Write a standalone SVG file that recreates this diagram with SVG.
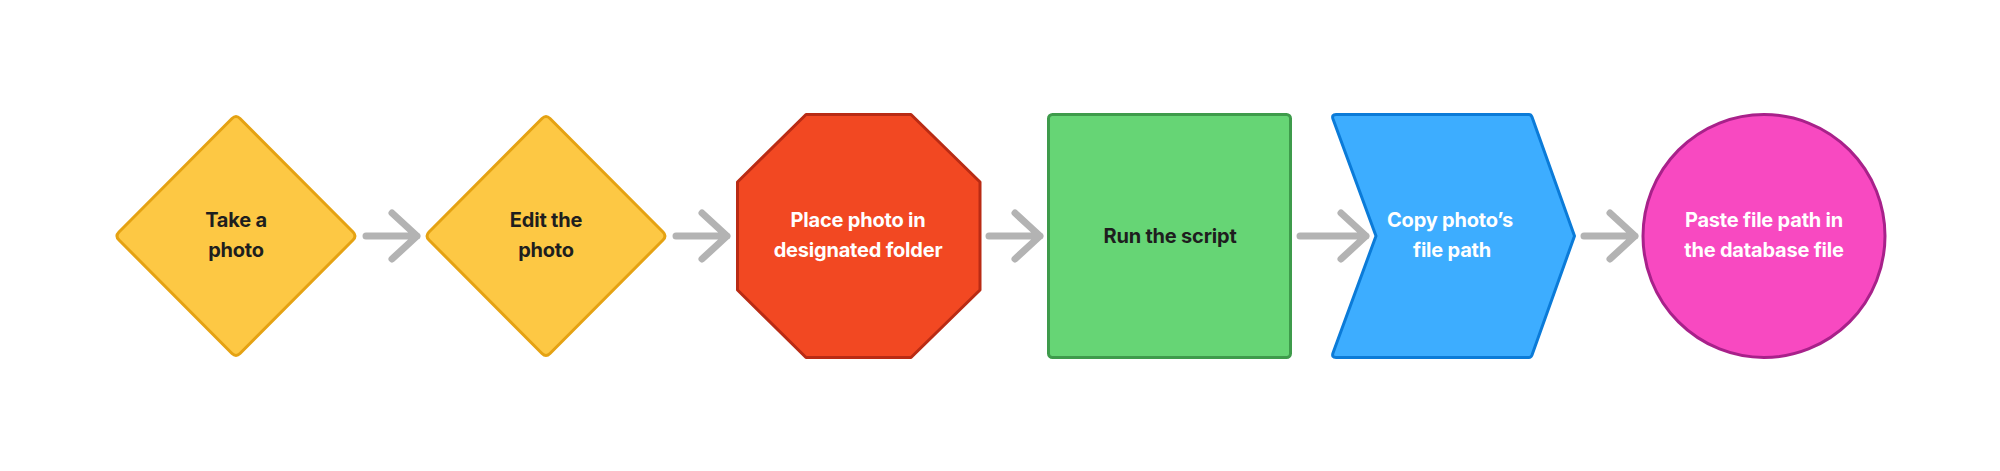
<svg xmlns="http://www.w3.org/2000/svg" width="2000" height="471" viewBox="0 0 2000 471">
  <defs>
    <style>
      .lbl { font-family: Inter, "Noto Sans", "Liberation Sans", sans-serif; font-size: 20px; font-weight: 700; text-anchor: middle; letter-spacing: -0.2px; }
      .dark { fill: #1E1E1E; }
      .light { fill: #FFFFFF; }
      .shape { stroke-width: 3; stroke-linejoin: round; }
      .yellow { fill: #FDC844; stroke: #E5A212; }
      .red { fill: #F24822; stroke: #B92B14; }
      .green { fill: #66D575; stroke: #3E9B4B; }
      .blue { fill: #3DADFF; stroke: #0B7BD8; }
      .pink { fill: #F849C1; stroke: #A8218A; }
      .conn { fill: none; stroke: #B3B3B3; stroke-width: 7; stroke-linecap: round; stroke-linejoin: round; }
    </style>
  </defs>
  <rect width="2000" height="471" fill="#FFFFFF"/>

  <g id="connectors">
    <path class="conn" d="M366 236 H417 M392 213 L417 236 L392 259"/>
    <path class="conn" d="M676 236 H727 M702 213 L727 236 L702 259"/>
    <path class="conn" d="M989 236 H1040 M1015 213 L1040 236 L1015 259"/>
    <path class="conn" d="M1300 236 H1366 M1341 213 L1366 236 L1341 259"/>
    <path class="conn" d="M1584 236 H1635 M1610 213 L1635 236 L1610 259"/>
  </g>

  <g id="node-take-photo">
    <path class="shape yellow" d="M232 118.5 Q236 114.5 240 118.5 L353 232 Q357 236 353 240 L240 353.5 Q236 357.5 232 353.5 L119 240 Q115 236 119 232 Z"/>
    <text class="lbl dark" x="236" y="227">Take a</text>
    <text class="lbl dark" x="236" y="257">photo</text>
  </g>

  <g id="node-edit-photo">
    <path class="shape yellow" d="M542 118.5 Q546 114.5 550 118.5 L663 232 Q667 236 663 240 L550 353.5 Q546 357.5 542 353.5 L429 240 Q425 236 429 232 Z"/>
    <text class="lbl dark" x="546" y="227">Edit the</text>
    <text class="lbl dark" x="546" y="257">photo</text>
  </g>

  <g id="node-place-photo">
    <path class="shape red" d="M806 114.5 H911 L980 182 V290 L911 357.5 H806 L737.5 290 V182 Z"/>
    <text class="lbl light" x="858" y="227">Place photo in</text>
    <text class="lbl light" x="858" y="257">designated folder</text>
  </g>

  <g id="node-run-script">
    <rect class="shape green" x="1048.5" y="114.5" width="242" height="243" rx="4"/>
    <text class="lbl dark" x="1170" y="243">Run the script</text>
  </g>

  <g id="node-copy-path">
    <path class="shape blue" d="M1336 114.5 H1529 Q1531 114.5 1532 117 L1574.5 236 L1532 355 Q1531 357.5 1529 357.5 H1336 Q1331.5 357.5 1333 353 L1376 236 L1333 119 Q1331.5 114.5 1336 114.5 Z"/>
    <text class="lbl light" x="1450" y="227">Copy photo’s</text>
    <text class="lbl light" x="1452" y="257">file path</text>
  </g>

  <g id="node-paste-path">
    <ellipse class="shape pink" cx="1764" cy="236" rx="121" ry="121.5"/>
    <text class="lbl light" x="1764" y="227">Paste file path in</text>
    <text class="lbl light" x="1764" y="257">the database file</text>
  </g>
</svg>
